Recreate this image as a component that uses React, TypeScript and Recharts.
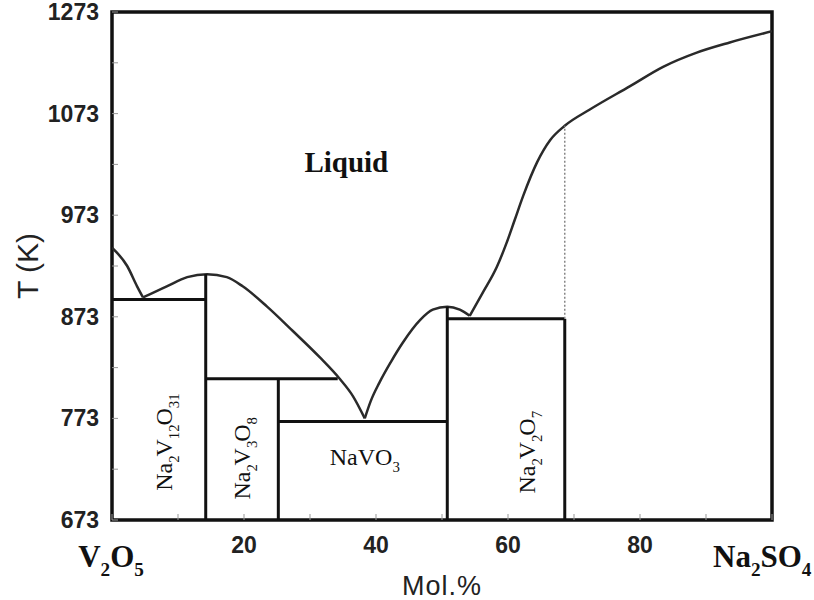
import React from 'react';
import {
  ComposedChart,
  Line,
  XAxis,
  YAxis,
  Scatter,
  ReferenceLine,
  ReferenceArea,
} from 'recharts';

const SANS = '"Liberation Sans", Arial, sans-serif';
const SERIF = '"Liberation Serif", "Times New Roman", serif';

// axis ticks (x = mol.% Na2SO4, t = temperature in K)
const xTicks = [0, 10, 20, 30, 40, 50, 60, 70, 80, 90, 100];
const xTickText = ['V2O5', '', '20', '', '40', '', '60', '', '80', '', 'Na2SO4'];
const yTicks = [673, 723, 773, 823, 873, 923, 973, 1023, 1073, 1123, 1173];
const yTickText = ['673', '', '773', '', '873', '', '973', '', '1073', '', '1273'];

// liquidus, one branch per primary phase field
const liquidusV2O5 = [
  { x: 0, t: 941 },
  { x: 2.3, t: 923 },
  { x: 3.8, t: 903 },
  { x: 4.7, t: 892 },
];
const liquidusNa2V12O31 = [
  { x: 4.7, t: 892 },
  { x: 8.3, t: 903 },
  { x: 11.4, t: 912 },
  { x: 14.4, t: 915 },
  { x: 17.4, t: 912 },
  { x: 19.8, t: 903 },
  { x: 23.5, t: 883 },
  { x: 27.4, t: 859 },
  { x: 31.5, t: 833 },
  { x: 34.5, t: 812 },
  { x: 36.5, t: 795 },
  { x: 38.3, t: 773 },
];
const liquidusNaVO3 = [
  { x: 38.3, t: 773 },
  { x: 39.2, t: 790 },
  { x: 40.5, t: 808 },
  { x: 42.2, t: 828 },
  { x: 44.1, t: 848 },
  { x: 46.7, t: 870 },
  { x: 48.6, t: 880 },
  { x: 50.8, t: 883 },
  { x: 52.7, t: 880 },
  { x: 54.2, t: 874 },
];
const liquidusNa2SO4 = [
  { x: 54.2, t: 874 },
  { x: 56.2, t: 897 },
  { x: 58.3, t: 922 },
  { x: 59.8, t: 946 },
  { x: 61.0, t: 968 },
  { x: 62.3, t: 992 },
  { x: 64.4, t: 1025 },
  { x: 66.4, t: 1047 },
  { x: 68.6, t: 1061 },
  { x: 72.4, t: 1077 },
  { x: 78.5, t: 1100 },
  { x: 83.5, t: 1119 },
  { x: 88.6, t: 1133 },
  { x: 93.6, t: 1143 },
  { x: 100, t: 1154 },
];

// invariant (horizontal) lines and compound (vertical) lines
const tieLines = [
  { t: 890, x1: 0, x2: 14.2 },
  { t: 812, x1: 14.2, x2: 34.2 },
  { t: 770, x1: 25.2, x2: 50.8 },
  { t: 871, x1: 50.8, x2: 68.6 },
];
const compoundLines = [
  { x: 14.2, t1: 673, t2: 915 },
  { x: 25.2, t1: 673, t2: 812 },
  { x: 50.8, t1: 673, t2: 883 },
  { x: 68.6, t1: 673, t2: 871 },
];
const dottedLine = { x: 68.6, t1: 871, t2: 1061 };

// field labels
const fieldLabels = [
  { x: 35.5, t: 1026, text: 'Liquid', rotate: 0, size: 29, weight: 700 },
  { x: 9.1, t: 758, text: 'Na2V12O31', rotate: -90, size: 24, weight: 400 },
  { x: 20.9, t: 742, text: 'Na2V3O8', rotate: -90, size: 24, weight: 400 },
  { x: 38.3, t: 735, text: 'NaVO3', rotate: 0, size: 24, weight: 400 },
  { x: 64.1, t: 748, text: 'Na2V2O7', rotate: -90, size: 24, weight: 400 },
];

// digits in a formula are written as subscripts
const Formula = ({ x, y, text, size, weight = 400, anchor = 'middle', rotate = 0 }: any) => {
  const runs: string[] = text.match(/\d+|\D+/g) || [];
  const shift = size * 0.28;
  let sub = false;
  return (
    <text
      x={x}
      y={y}
      textAnchor={anchor}
      fontFamily={SERIF}
      fontSize={size}
      fontWeight={weight}
      fill="#111"
      transform={rotate ? `rotate(${rotate} ${x} ${y})` : undefined}
    >
      {runs.map((run, i) => {
        const isSub = /\d/.test(run);
        const dy = isSub === sub ? 0 : isSub ? shift : -shift;
        // pull letters back in after a subscript on the upright labels
        const dx = rotate && !isSub && sub ? -size * 0.05 : 0;
        sub = isSub;
        return (
          <tspan key={i} dx={dx} dy={dy} fontSize={isSub ? size * 0.62 : size}>
            {run}
          </tspan>
        );
      })}
    </text>
  );
};

const FieldLabel = (props: any) => {
  const { cx, cy, payload } = props;
  // baseline sits below the glyph centre (to the right once rotated)
  return (
    <Formula
      x={cx}
      y={cy + payload.size * 0.35}
      text={payload.text}
      size={payload.size}
      weight={payload.weight}
      rotate={payload.rotate}
    />
  );
};

const XTick = ({ x, y, payload }: any) => {
  const label = xTickText[xTicks.indexOf(payload.value)];
  const first = payload.value === 0;
  return (
    <g>
      <line x1={x} y1={y} x2={x} y2={y - 6} stroke="#999" strokeWidth={1} />
      {label && /[A-Za-z]/.test(label) ? (
        <Formula
          x={first ? x - 1 : x - 59}
          y={y + 47}
          text={label}
          size={31}
          weight={700}
          anchor={first ? 'middle' : 'start'}
        />
      ) : label ? (
        <text x={x} y={y + 33} textAnchor="middle" fontFamily={SANS} fontSize={23} fontWeight={700} fill="#222">
          {label}
        </text>
      ) : null}
    </g>
  );
};

const YTick = ({ x, y, payload }: any) => {
  const label = yTickText[yTicks.indexOf(payload.value)];
  return (
    <g>
      <line x1={x} y1={y} x2={x + 6} y2={y} stroke="#999" strokeWidth={1} />
      {label ? (
        <text x={x - 13} y={y + 8} textAnchor="end" fontFamily={SANS} fontSize={23} fontWeight={700} fill="#222">
          {label}
        </text>
      ) : null}
    </g>
  );
};

const XTitle = ({ viewBox }: any) => (
  <text
    x={viewBox.x + viewBox.width / 2}
    y={viewBox.y + 75}
    textAnchor="middle"
    fontFamily={SANS}
    fontSize={27}
    letterSpacing={1}
    fill="#222"
  >
    Mol.%
  </text>
);

const YTitle = ({ viewBox }: any) => {
  const cx = 28;
  const cy = viewBox.y + viewBox.height / 2;
  return (
    <text
      x={cx}
      y={cy + 10}
      textAnchor="middle"
      fontFamily={SANS}
      fontSize={30}
      fill="#222"
      transform={`rotate(-90 ${cx} ${cy})`}
    >
      T (K)
    </text>
  );
};

const liquidusBranches = [liquidusV2O5, liquidusNa2V12O31, liquidusNaVO3, liquidusNa2SO4];

const App = () => {
  return (
    <div style={{ position: 'absolute', left: 0, top: 0, width: 814, height: 600, background: '#fff' }}>
      <ComposedChart width={814} height={600} margin={{ top: 12, right: 42, bottom: 40, left: 52 }}>
        <XAxis
          dataKey="x"
          type="number"
          domain={[0, 100]}
          ticks={xTicks}
          interval={0}
          height={40}
          axisLine={false}
          tickLine={false}
          tickSize={0}
          tickMargin={0}
          tick={<XTick />}
          label={<XTitle />}
          allowDataOverflow
        />
        <YAxis
          type="number"
          domain={[673, 1173]}
          ticks={yTicks}
          interval={0}
          width={60}
          axisLine={false}
          tickLine={false}
          tickSize={0}
          tickMargin={0}
          tick={<YTick />}
          label={<YTitle />}
          allowDataOverflow
        />
        {liquidusBranches.map((branch, i) => (
          <Line
            key={`liq-${i}`}
            data={branch}
            dataKey="t"
            type="monotone"
            stroke="#2a2a2a"
            strokeWidth={2.5}
            dot={false}
            activeDot={false}
            isAnimationActive={false}
          />
        ))}
        {tieLines.map((l, i) => (
          <ReferenceLine
            key={`tie-${i}`}
            segment={[{ x: l.x1, y: l.t }, { x: l.x2, y: l.t }]}
            stroke="#111"
            strokeWidth={3}
          />
        ))}
        {compoundLines.map((l, i) => (
          <ReferenceLine
            key={`cmp-${i}`}
            segment={[{ x: l.x, y: l.t1 }, { x: l.x, y: l.t2 }]}
            stroke="#111"
            strokeWidth={3}
          />
        ))}
        <ReferenceLine
          segment={[{ x: dottedLine.x, y: dottedLine.t1 }, { x: dottedLine.x, y: dottedLine.t2 }]}
          stroke="#888"
          strokeWidth={1.5}
          strokeDasharray="2 2"
        />
        <Scatter data={fieldLabels} dataKey="t" shape={<FieldLabel />} isAnimationActive={false} />
        <ReferenceArea x1={0} x2={100} y1={673} y2={1173} fill="none" fillOpacity={0} stroke="#111" strokeWidth={3.5} />
      </ComposedChart>
    </div>
  );
};

export default App;
